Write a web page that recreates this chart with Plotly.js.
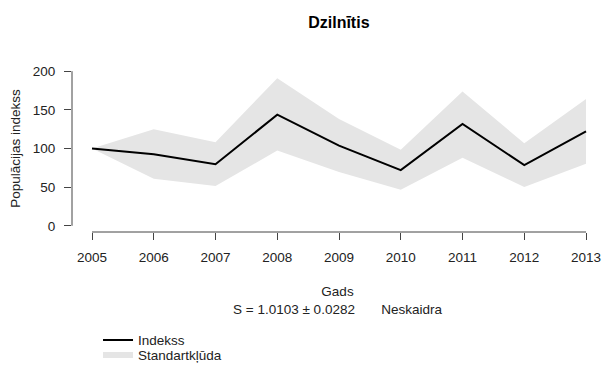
<!DOCTYPE html>
<html><head><meta charset="utf-8">
<script src="https://cdn.plot.ly/plotly-3.0.1.min.js"></script>
<style>html,body{margin:0;padding:0;background:#fff}#chart{width:603px;height:365px}</style>
</head><body><div id="chart"></div>
<script>
const years = [2005, 2006, 2007, 2008, 2009, 2010, 2011, 2012, 2013];
const index = [100, 92.6, 79.7, 143.7, 103.8, 72.0, 131.7, 78.5, 122.2];
const upper = [100, 124.8, 108.0, 190.9, 138.0, 98.3, 173.6, 106.8, 163.9];
const lower = [100, 61.0, 51.5, 97.4, 69.5, 46.8, 88.0, 50.2, 80.2];
const yTicks = [0, 50, 100, 150, 200];
const titleText = 'Dzilnītis';
const xTitle = 'Gads';
const slopeText = 'S = 1.0103 ± 0.0282';
const trendText = 'Neskaidra';
const yTitle = 'Populācijas indekss';
const legendNames = ['Indekss', 'Standartkļūda'];

const font = {family: 'Liberation Sans, Arial, sans-serif', size: 13.5, color: '#222'};

const band = {
  x: years.concat(years.slice().reverse()),
  y: upper.concat(lower.slice().reverse()),
  type: 'scatter', mode: 'none', fill: 'toself',
  fillcolor: '#e5e5e5', name: legendNames[1], legend: 'legend2',
  hoverinfo: 'skip'
};
const line = {
  x: years, y: index, type: 'scatter', mode: 'lines',
  line: {color: '#000', width: 2}, name: legendNames[0], legend: 'legend'
};

const legendBase = {x: 0.049, xanchor: 'left', yanchor: 'top', orientation: 'v',
                    font: font, bgcolor: 'rgba(0,0,0,0)', itemwidth: 30};

const layout = {
  width: 603, height: 365,
  margin: {l: 72, r: 0, t: 64.5, b: 133, autoexpand: false},
  paper_bgcolor: '#fff', plot_bgcolor: '#fff',
  font: font,
  title: {text: '<b>' + titleText + '</b>', x: 0.562, xanchor: 'center', y: 0.94, yanchor: 'middle',
          font: {family: 'Liberation Sans, Arial, sans-serif', size: 16, color: '#000'}},
  xaxis: {
    range: [2004.676, 2013.275], autorange: false,
    tickvals: years, ticktext: years.map(String),
    ticks: 'outside', ticklen: 7, tickcolor: '#444', tickwidth: 1,
    showgrid: false, zeroline: false, showline: false,
    tickfont: font, ticklabelstandoff: 6,
    title: {text: xTitle + '<br>' + slopeText + '\u00A0\u00A0\u00A0\u00A0\u00A0\u00A0\u00A0' + trendText,
            font: font, standoff: 22}
  },
  yaxis: {
    range: [-8, 208], autorange: false,
    tickvals: yTicks, ticktext: yTicks.map(String),
    ticks: 'outside', ticklen: 7, tickcolor: '#444', tickwidth: 1,
    showgrid: false, zeroline: false, showline: false,
    tickfont: font, ticklabelstandoff: 6,
    title: {text: yTitle, font: font, standoff: 9}
  },
  shapes: [
    {type: 'line', xref: 'x', yref: 'paper', x0: years[0], x1: years[years.length - 1], y0: 0, y1: 0,
     line: {color: '#444', width: 1}},
    {type: 'line', xref: 'paper', yref: 'y', x0: 0, x1: 0, y0: yTicks[0], y1: yTicks[yTicks.length - 1],
     line: {color: '#444', width: 1}}
  ],
  showlegend: true,
  legend: Object.assign({}, legendBase, {y: -0.555}),
  legend2: Object.assign({}, legendBase, {y: -0.645})
};

Plotly.newPlot('chart', [band, line], layout, {displayModeBar: false, staticPlot: true});
</script></body></html>
